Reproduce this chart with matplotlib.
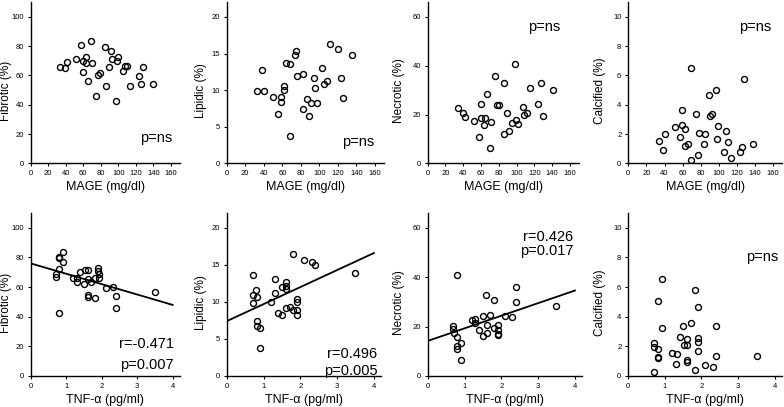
import matplotlib
matplotlib.use("Agg")
import matplotlib.pyplot as plt
import numpy as np

plt.rcParams['font.family'] = ['Liberation Sans', 'DejaVu Sans']

# --- MAGE row ---
fib_mage_x = [33.8, 39.2, 41.4, 51.3, 57.0, 59.3, 60.1, 63.1, 63.1, 65.0, 69.2, 70.3, 74.5, 77.2, 78.7,
              84.4, 85.6, 89.0, 91.3, 93.2, 97.0, 98.5, 100.0, 105.3, 107.2, 109.9, 113.3, 123.6, 125.5,
              128.1, 139.2]
fib_mage_y = [65.7, 65.2, 69.3, 71.1, 80.6, 62.5, 70.2, 72.5, 68.6, 56.4, 83.5, 68.8, 45.8, 60.0, 61.4,
              79.2, 52.6, 65.9, 76.5, 71.6, 42.9, 70.0, 72.9, 62.8, 66.4, 66.4, 52.6, 59.4, 54.4,
              65.7, 54.0]

lip_mage_x = [32.7, 37.8, 40.6, 50.0, 55.4, 58.3, 58.6, 61.5, 61.5, 63.7, 68.7, 68.3, 73.4, 75.2, 76.3,
              82.7, 82.0, 86.7, 88.8, 90.6, 94.2, 95.7, 97.5, 103.2, 105.4, 107.9, 111.2, 120.5, 123.0,
              125.2, 135.6]
lip_mage_y = [9.93, 12.73, 9.84, 9.03, 6.73, 9.12, 8.44, 10.6, 10.02, 13.77, 13.59, 3.75, 14.81, 15.3, 11.96,
              12.23, 7.40, 8.80, 6.46, 8.22, 11.65, 10.34, 8.22, 13.09, 10.84, 11.29, 16.34, 15.58, 11.65,
              8.89, 14.85]

nec_mage_x = [34.4, 39.6, 41.5, 51.6, 57.6, 59.8, 60.2, 63.6, 64.3, 66.5, 70.7, 71.4, 75.9, 78.1, 80.0,
              85.6, 86.4, 89.7, 91.6, 94.6, 98.3, 99.4, 101.3, 106.9, 108.8, 112.1, 115.1, 124.5, 127.5,
              129.7, 140.9]
nec_mage_y = [22.6, 20.6, 18.8, 17.3, 10.8, 24.5, 18.6, 15.7, 18.6, 28.4, 6.1, 17.1, 35.8, 23.7, 23.8,
              11.9, 33.0, 20.7, 13.4, 16.5, 40.6, 17.6, 16.3, 23.0, 19.9, 20.7, 30.7, 24.2, 33.0,
              19.4, 29.9]

cal_mage_x = [33.5, 38.2, 40.4, 51.1, 56.6, 58.8, 59.2, 62.9, 62.9, 65.4, 69.1, 69.5, 74.6, 76.8, 78.3,
              83.8, 84.6, 88.6, 90.4, 92.6, 96.7, 97.8, 99.3, 105.1, 107.7, 109.6, 113.2, 122.8, 125.7,
              127.9, 138.2]
cal_mage_y = [1.51, 0.93, 1.99, 2.51, 1.78, 3.61, 2.62, 2.35, 1.17, 1.29, 6.50, 0.23, 3.36, 0.56, 2.08,
              1.31, 2.03, 4.65, 3.21, 3.34, 5.03, 1.69, 2.55, 0.77, 2.19, 1.44, 0.36, 0.74, 1.11,
              5.78, 1.35]

# --- TNF-a row ---
fib_tnf_x = [0.70, 0.70, 0.79, 0.80, 0.81, 0.81, 0.90, 0.92, 1.20, 1.30, 1.31, 1.40, 1.50, 1.52, 1.61,
             1.61, 1.62, 1.62, 1.70, 1.81, 1.82, 1.91, 1.91, 1.92, 1.92, 2.11, 2.32, 2.40, 2.40, 3.51]
fib_tnf_y = [68.5, 67.1, 79.5, 80.4, 72.5, 42.8, 83.8, 76.8, 66.2, 66.0, 63.3, 70.5, 61.9, 71.6, 65.7,
             54.7, 53.2, 71.2, 63.1, 66.4, 52.5, 72.9, 71.0, 69.0, 66.0, 59.2, 60.1, 54.1, 46.2, 56.8]

lip_tnf_x = [0.71, 0.71, 0.71, 0.80, 0.81, 0.81, 0.81, 0.91, 0.91, 1.21, 1.30, 1.30, 1.40, 1.50, 1.51,
             1.60, 1.60, 1.60, 1.60, 1.71, 1.80, 1.80, 1.90, 1.90, 1.91, 1.91, 2.10, 2.31, 2.40, 3.49]
lip_tnf_y = [13.6, 10.95, 9.91, 11.67, 10.63, 7.43, 6.80, 6.49, 3.83, 10.0, 13.15, 11.26, 8.56, 8.29, 12.07,
             12.75, 12.21, 11.71, 9.14, 9.32, 16.44, 8.92, 10.4, 9.95, 8.87, 8.29, 15.59, 15.36, 14.95, 13.87]

nec_tnf_x = [0.70, 0.70, 0.71, 0.80, 0.80, 0.79, 0.80, 0.90, 0.90, 1.20, 1.29, 1.29, 1.39, 1.50, 1.51,
             1.59, 1.60, 1.61, 1.70, 1.80, 1.80, 1.90, 1.90, 1.90, 1.90, 2.11, 2.30, 2.40, 2.40, 3.49]
nec_tnf_y = [20.3, 19.2, 17.3, 40.7, 15.9, 12.2, 11.1, 6.4, 13.5, 22.6, 23.1, 21.4, 18.5, 24.3, 16.2,
             32.8, 20.7, 17.4, 24.6, 30.7, 19.5, 20.7, 18.5, 17.2, 16.5, 24.2, 23.8, 36.1, 30.1, 28.4]

cal_tnf_x = [0.70, 0.70, 0.71, 0.81, 0.81, 0.81, 0.81, 0.92, 0.92, 1.20, 1.31, 1.32, 1.41, 1.50, 1.51,
             1.61, 1.61, 1.60, 1.61, 1.71, 1.81, 1.81, 1.91, 1.91, 1.91, 1.91, 2.10, 2.31, 2.41, 2.41, 3.52]
cal_tnf_y = [2.25, 1.96, 0.25, 5.05, 1.82, 1.31, 1.19, 6.55, 3.22, 1.58, 0.81, 1.49, 2.66, 3.40, 2.09,
             2.50, 2.09, 1.06, 0.95, 3.60, 5.79, 0.41, 4.66, 2.59, 2.32, 1.69, 0.77, 0.61, 3.36, 1.37, 1.33]

# regression lines (intercept, slope); None = no line
fib_fit = (76.0, -7.0)
lip_fit = (7.4, 2.3)
nec_fit = (14.2, 5.1)

ylabels = ["Fibrotic (%)", "Lipidic (%)", "Necrotic (%)", "Calcified (%)"]
ylims = [110, 22, 66, 11]
yticks = [np.arange(0, 101, 20), np.arange(0, 21, 5), np.arange(0, 61, 20), np.arange(0, 11, 2)]

top_data = [(fib_mage_x, fib_mage_y), (lip_mage_x, lip_mage_y),
            (nec_mage_x, nec_mage_y), (cal_mage_x, cal_mage_y)]
bot_data = [(fib_tnf_x, fib_tnf_y), (lip_tnf_x, lip_tnf_y),
            (nec_tnf_x, nec_tnf_y), (cal_tnf_x, cal_tnf_y)]
bot_fits = [fib_fit, lip_fit, nec_fit, None]

# annotation text and position (data coords, ha)
top_notes = [("p=ns", 143, 17.6, "center"), ("p=ns", 142, 2.85, "center"),
             ("p=ns", 131.6, 55.8, "center"), ("p=ns", 140.4, 9.3, "center")]
bot_notes = [(["r=-0.471", "p=0.007"], 4.04, [21.4, 7.4]),
             (["r=0.496", "p=0.005"], 4.1, [2.97, 0.68]),
             (["r=0.426", "p=0.017"], 3.95, [56.2, 50.8]),
             (["p=ns"], 4.1, [8.0])]

W, H = 784, 407
fig = plt.figure(figsize=(W / 100, H / 100), dpi=100)

lefts = [30.7, 226.7, 427.7, 628.3]
top_w = [149, 157.6, 151, 154]
bot_w = [149, 154.6, 154.6, 153.7]
ylab_off = [19, 20, 22.7, 22.6]


def style(ax, i):
    for s in ["top", "right"]:
        ax.spines[s].set_visible(False)
    for s in ["left", "bottom"]:
        ax.spines[s].set_linewidth(1.0)
    ax.tick_params(labelsize=5.5, length=2.5, width=0.8, pad=2.5)
    ax.set_ylim(0, ylims[i])
    ax.set_yticks(yticks[i])
    ax.set_ylabel(ylabels[i], fontsize=8.5)


for i in range(4):
    # top row: MAGE
    ax = fig.add_axes([lefts[i] / W, 1 - 163.3 / H, top_w[i] / W, 161 / H])
    x, y = top_data[i]
    ax.plot(x, y, "o", mfc="none", mec="black", ms=4.3, mew=1.0)
    style(ax, i)
    ax.set_xlim(0, 170)
    ax.set_xticks(np.arange(0, 161, 20))
    ax.set_xlabel("MAGE (mg/dl)", fontsize=9, labelpad=3)
    ax.yaxis.set_label_coords(-ylab_off[i] / top_w[i], 0.45)
    t, tx, ty, ha = top_notes[i]
    ax.text(tx, ty, t, fontsize=10.5, ha=ha, va="center")

    # bottom row: TNF-a
    ax = fig.add_axes([lefts[i] / W, 1 - 376 / H, bot_w[i] / W, 163 / H])
    x, y = bot_data[i]
    ax.plot(x, y, "o", mfc="none", mec="black", ms=4.3, mew=1.0)
    if bot_fits[i] is not None:
        b0, b1 = bot_fits[i]
        xl = np.array([0, 4])
        ax.plot(xl, b0 + b1 * xl, color="black", lw=1.3)
    style(ax, i)
    ax.set_xlim(0, 4.2)
    ax.set_xticks(range(5))
    ax.set_xlabel("TNF-α (pg/ml)", fontsize=9, labelpad=3)
    ax.yaxis.set_label_coords(-ylab_off[i] / bot_w[i], 0.45)
    lines, tx, tys = bot_notes[i]
    for s, ty in zip(lines, tys):
        ax.text(tx, ty, s, fontsize=10.5, ha="right", va="center")

fig.savefig("out.png", dpi=100)
